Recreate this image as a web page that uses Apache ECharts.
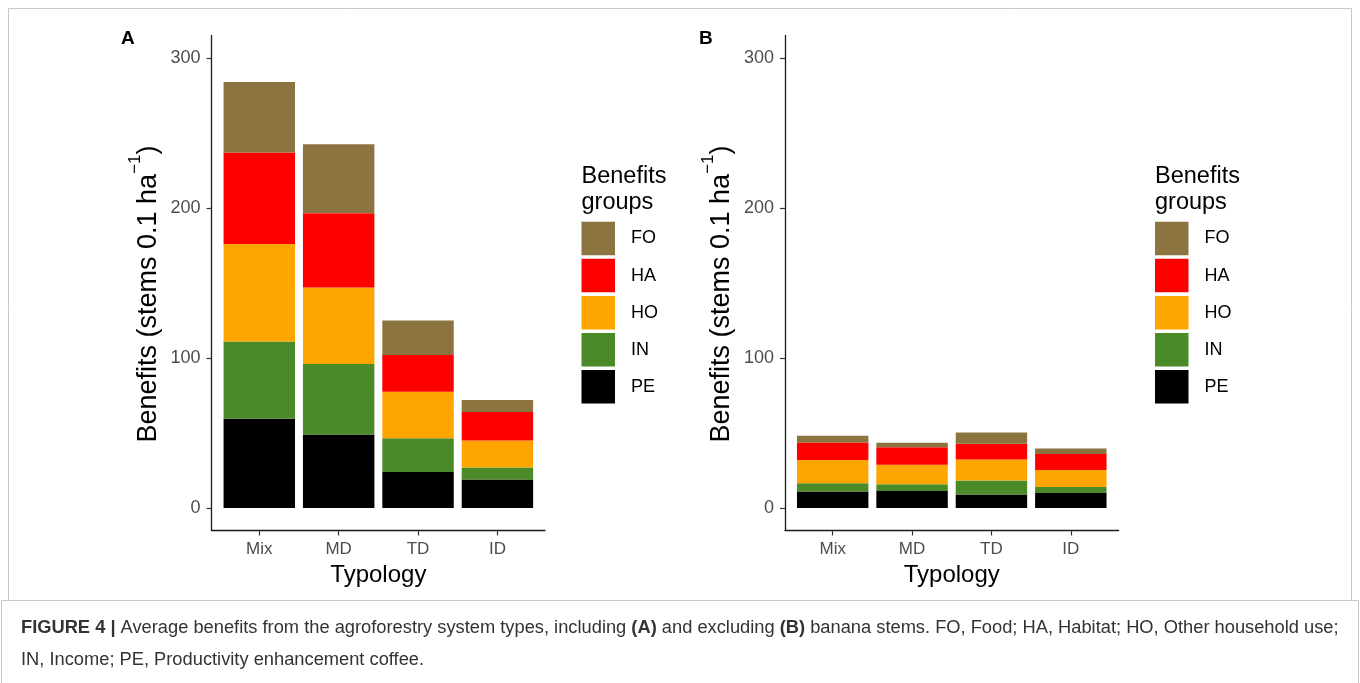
<!DOCTYPE html>
<html>
<head>
<meta charset="utf-8">
<style>
  html, body { margin: 0; padding: 0; background: #ffffff; }
  #chart { width: 1360px; height: 683px; }
</style>
<script src="https://cdn.jsdelivr.net/npm/echarts@6/dist/echarts.min.js"></script>
</head>
<body>
<div id="chart"></div>
<script>
// Agroforestry system types (x categories)
const categories = ['Mix', 'MD', 'TD', 'ID'];

// Benefit groups, legend order (top to bottom)
const groupNames = ['FO', 'HA', 'HO', 'IN', 'PE'];
const groupColors = { FO: '#8b7440', HA: '#ff0000', HO: '#ffa500', IN: '#4a8a28', PE: '#000000' };

// Panel A: including banana stems (stems 0.1 ha^-1)
const peA = [59.5, 49, 24, 19];
const inA = [51.5, 47, 22.5, 8];
const hoA = [65, 51, 31, 18];
const haA = [61, 49.5, 24.5, 19];
const foA = [47, 46, 23, 8];

// Panel B: excluding banana stems
const peB = [11, 11.3, 9, 10];
const inB = [5.5, 4.5, 9.3, 4];
const hoB = [15.5, 13, 14, 11.3];
const haB = [11.7, 11.7, 10.5, 10.7];
const foB = [4.5, 3, 7.5, 3.6];

// Y axis tick labels and limits
const yTicks = [0, 100, 200, 300];
const yMin = -15, yMax = 315;

const FONT = 'Liberation Sans, Arial, Helvetica, sans-serif';
const AXIS_TEXT = '#4d4d4d';

const chart = echarts.init(document.getElementById('chart'), null, { renderer: 'canvas' });

// Bottom-to-top stacking order
function panelSeries(tag, xi, vals) {
  const order = [['PE', vals.pe], ['IN', vals.in], ['HO', vals.ho], ['HA', vals.ha], ['FO', vals.fo]];
  return order.map(([name, data]) => ({
    type: 'bar',
    name: name,
    stack: 'total' + tag,
    xAxisIndex: xi,
    yAxisIndex: xi,
    barCategoryGap: '10%',
    itemStyle: { color: groupColors[name] },
    emphasis: { disabled: true },
    data: data
  }));
}

function mainX(gridIndex) {
  return {
    type: 'category',
    gridIndex: gridIndex,
    data: categories,
    boundaryGap: true,
    axisLine: { show: false, onZero: false },
    axisTick: { show: true, alignWithLabel: true, length: 5, lineStyle: { color: '#333', width: 1.2 } },
    axisLabel: { color: AXIS_TEXT, fontSize: 17, fontFamily: FONT, margin: 10 },
    splitLine: { show: false },
    name: 'Typology',
    nameLocation: 'middle',
    nameGap: 33,
    nameTextStyle: { color: '#000', fontSize: 24, fontFamily: FONT }
  };
}

function mainY(gridIndex) {
  return {
    type: 'value',
    gridIndex: gridIndex,
    min: yMin,
    max: yMax,
    offset: 8,
    axisLine: { show: true, onZero: false, lineStyle: { color: '#1a1a1a', width: 1.3 } },
    axisTick: { show: true, length: 5, customValues: yTicks, lineStyle: { color: '#333', width: 1.2 } },
    axisLabel: { color: AXIS_TEXT, fontSize: 18, fontFamily: FONT, margin: 11, customValues: yTicks },
    splitLine: { show: false },
    name: '{t|Benefits (stems 0.1 ha}{s|−1}{t|)}',
    nameLocation: 'middle',
    nameRotate: 90,
    nameGap: 50,
    nameTextStyle: {
      padding: [0, 22, 0, 0],
      rich: {
        t: { color: '#000', fontSize: 27, fontFamily: FONT, lineHeight: 35, verticalAlign: 'bottom' },
        s: { color: '#000', fontSize: 17, fontFamily: FONT, lineHeight: 35, verticalAlign: 'top' }
      }
    }
  };
}

// Frame axis that only draws the full-width baseline
function frameX(gridIndex) {
  return {
    type: 'value', gridIndex: gridIndex, min: 0, max: 1,
    axisLine: { show: true, onZero: false, lineStyle: { color: '#1a1a1a', width: 1.3 } },
    axisTick: { show: false }, axisLabel: { show: false }, splitLine: { show: false }
  };
}
function frameY(gridIndex) {
  return { type: 'value', gridIndex: gridIndex, min: 0, max: 1, show: false };
}

function legendAt(left) {
  return {
    orient: 'vertical',
    left: left,
    top: 221.7,
    padding: 0,
    itemWidth: 33.5,
    itemHeight: 33.5,
    itemGap: 3.6,
    icon: 'rect',
    selectedMode: false,
    data: groupNames,
    textStyle: { color: '#000', fontSize: 18, fontFamily: FONT, padding: [0, 0, 0, 11] }
  };
}

function legendTitle(left) {
  return {
    text: 'Benefits\ngroups',
    left: left,
    top: 164,
    padding: 0,
    textStyle: { color: '#000', fontSize: 23.5, fontWeight: 'normal', fontFamily: FONT, lineHeight: 26 }
  };
}

const option = {
  animation: false,
  backgroundColor: '#ffffff',
  title: [
    legendTitle(581.5),
    legendTitle(1155),
    { text: 'A', left: 121, top: 29, padding: 0, textStyle: { color: '#000', fontSize: 19, fontWeight: 'bold', fontFamily: FONT } },
    { text: 'B', left: 699, top: 29, padding: 0, textStyle: { color: '#000', fontSize: 19, fontWeight: 'bold', fontFamily: FONT } }
  ],
  legend: [legendAt(581.5), legendAt(1155)],
  grid: [
    { left: 219.6, top: 35.5, width: 317.5, height: 495 },
    { left: 211.5, top: 35.5, width: 333.5, height: 495 },
    { left: 793, top: 35.5, width: 317.5, height: 495 },
    { left: 785, top: 35.5, width: 333.5, height: 495 }
  ],
  xAxis: [mainX(0), frameX(1), mainX(2), frameX(3)],
  yAxis: [mainY(0), frameY(1), mainY(2), frameY(3)],
  series: [].concat(
    panelSeries('A', 0, { pe: peA, in: inA, ho: hoA, ha: haA, fo: foA }),
    panelSeries('B', 2, { pe: peB, in: inB, ho: hoB, ha: haB, fo: foB })
  ),
  graphic: [
    // figure frame
    { type: 'rect', shape: { x: 8.5, y: 8.5, width: 1343, height: 592 }, style: { fill: null, stroke: '#c8c8c8', lineWidth: 1 }, silent: true },
    // caption box
    { type: 'polyline', shape: { points: [[1.5, 683], [1.5, 600.5], [1358.5, 600.5], [1358.5, 683]] }, style: { fill: null, stroke: '#c8c8c8', lineWidth: 1 }, silent: true },
    {
      type: 'text',
      left: 21,
      top: 612,
      silent: true,
      style: {
        text: '{b|FIGURE 4 |} Average benefits from the agroforestry system types, including {b|(A)} and excluding {b|(B)} banana stems. FO, Food; HA, Habitat; HO, Other household use;\nIN, Income; PE, Productivity enhancement coffee.',
        fill: '#333',
        fontSize: 18.3,
        fontFamily: FONT,
        lineHeight: 32,
        rich: {
          b: { fontWeight: 'bold', fontSize: 18.3, fontFamily: FONT, fill: '#333', lineHeight: 32 }
        }
      }
    }
  ]
};

chart.setOption(option);
</script>
</body>
</html>
